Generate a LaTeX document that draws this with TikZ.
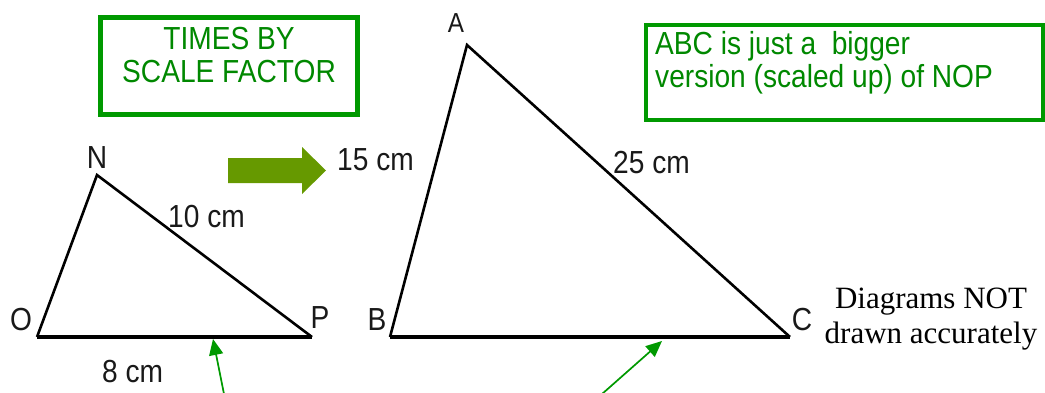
\documentclass[tikz,border=0pt]{standalone}
\usepackage{graphicx}
\usepackage{fontspec}
\setmainfont{Liberation Sans}
\newfontfamily\timesf{Liberation Serif}
\usetikzlibrary{arrows.meta}
\definecolor{boxgreen}{RGB}{0,153,0}
\definecolor{txtgreen}{RGB}{0,136,0}
\definecolor{bigarrowgreen}{RGB}{102,153,0}
\definecolor{lblgray}{RGB}{25,25,25}
\newcommand\tallt[1]{\scalebox{0.97}[1.1]{#1}}
\tikzset{
  greenbox/.style={draw=boxgreen, inner sep=0pt},
  boxtext/.style={text=txtgreen, inner sep=0pt, font=\fontsize{29}{33}\selectfont},
  lbl/.style={text=lblgray, inner sep=0pt, font=\fontsize{29}{33}\selectfont},
  tri/.style={draw=black, line width=2.6pt, line join=miter},
  note/.style={inner sep=0pt, font=\timesf\fontsize{31}{35}\selectfont},
  pointer/.style={draw=boxgreen, line width=1.7pt, -{Triangle[length=16pt,width=14pt]}}
}
\begin{document}
\begin{tikzpicture}[x=1pt,y=-1pt]
\useasboundingbox (0,0) rectangle (1045,392);
% boxes
\node[greenbox, line width=5pt, minimum width=257pt, minimum height=97pt] (box1) at (229,66) {};
\node[greenbox, line width=4pt, minimum width=397pt, minimum height=95pt] (box2) at (844.5,72.5) {};
\node[boxtext, anchor=base] (t1) at (229,49) {\tallt{TIMES BY}};
\node[boxtext, anchor=base] (t2) at (229,82) {\tallt{SCALE FACTOR}};
\node[boxtext, anchor=base west] (t3) at (655,54) {\tallt{ABC is just a \ bigger}};
\node[boxtext, anchor=base west] (t4) at (655,87) {\tallt{version (scaled up) of NOP}};
% small triangle
\coordinate (O) at (37,337);
\coordinate (N) at (97,175);
\coordinate (P) at (312,337);
\draw[tri] (O) -- (N) -- (P);
\draw[tri, line width=3.2pt] (O) -- (P);
% big triangle
\coordinate (A) at (467,45);
\coordinate (B) at (390,337);
\coordinate (C) at (790,337);
\draw[tri] (B) -- (A) -- (C);
\draw[tri, line width=3.2pt] (B) -- (C);
% vertex labels
\node[lbl, anchor=base] (lN) at (97,168) {\tallt{N}};
\node[lbl, anchor=base] (lO) at (21,330) {\tallt{O}};
\node[lbl, anchor=base] (lP) at (320,328) {\tallt{P}};
\node[lbl, anchor=base, font=\fontsize{25}{28}\selectfont] (lA) at (456,32) {\tallt{A}};
\node[lbl, anchor=base] (lB) at (377,330) {\tallt{B}};
\node[lbl, anchor=base] (lC) at (802,330) {\tallt{C}};
% side labels
\node[lbl, anchor=base west] (s10) at (168,227) {\tallt{10 cm}};
\node[lbl, anchor=base west] (s8) at (102,382) {\tallt{8 cm}};
\node[lbl, anchor=base west] (s15) at (337,170) {\tallt{15 cm}};
\node[lbl, anchor=base west] (s25) at (613,173) {\tallt{25 cm}};
% big arrow
\fill[bigarrowgreen] (228,158) -- (302,158) -- (302,147) -- (326,170.5) -- (302,194) -- (302,183) -- (228,183) -- cycle;
% note
\node[note, anchor=base] (n1) at (931,308) {Diagrams NOT};
\node[note, anchor=base] (n2) at (931,343) {drawn accurately};
% pointers
\coordinate (p1tail) at (224,394);
\coordinate (p1tip) at (213,339);
\coordinate (p2tail) at (602,394);
\coordinate (p2tip) at (662,341);
\draw[pointer] (p1tail) -- (p1tip);
\draw[pointer] (p2tail) -- (p2tip);
\end{tikzpicture}
\end{document}
